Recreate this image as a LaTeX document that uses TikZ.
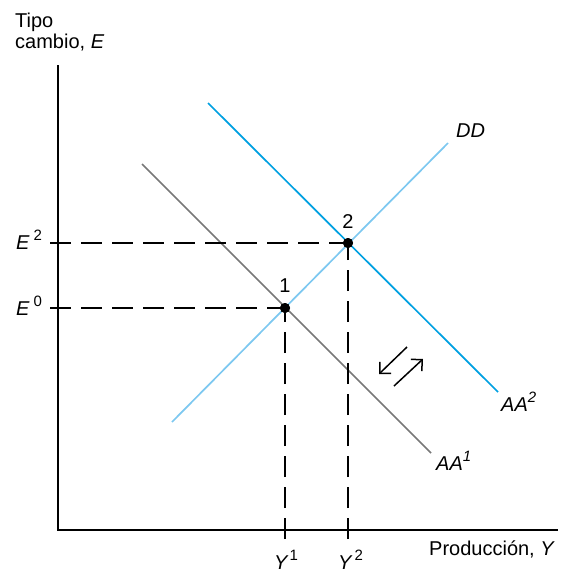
\documentclass[tikz,border=0pt]{standalone}
\usepackage{fontspec}
\setmainfont{Liberation Sans}
\usetikzlibrary{arrows.meta}
\definecolor{aablue}{RGB}{0,160,225}
\definecolor{ddblue}{RGB}{125,200,240}
\definecolor{aagray}{RGB}{120,120,120}
\newcommand\supn[1]{\raisebox{0.45em}{\fontsize{15}{15}\selectfont #1}}
\begin{document}
\begin{tikzpicture}[x=1pt,y=-1pt, font=\fontsize{20}{22}\selectfont,
 axis/.style={line width=2.2pt},
 curve/.style={line width=1.7pt},
 guide/.style={line width=1.1pt, dash pattern=on 21pt off 10pt},
 pt/.style={circle, fill=black, inner sep=0pt, minimum size=10pt},
 lbl/.style={inner sep=0pt},
 shiftarrow/.style={line width=1.5pt, -{Straight Barb[length=8pt,width=16pt]}}]
\useasboundingbox (0,0) rectangle (571,573);
% axes
\coordinate (O) at (58,530);
\coordinate (ytop) at (58,65);
\coordinate (xend) at (558,530);
\draw[axis] (ytop) -- (O) -- (xend);
% curves
\coordinate (aa1s) at (142,164);
\coordinate (aa1e) at (431,453);
\coordinate (aa2s) at (208,103);
\coordinate (aa2e) at (498,392);
\coordinate (dds) at (172,422);
\coordinate (dde) at (448,143);
\draw[curve, ddblue] (dds) -- (dde);
\draw[curve, aagray] (aa1s) -- (aa1e);
\draw[curve, aablue] (aa2s) -- (aa2e);
% equilibrium points
\node[pt] (p1) at (285,308) {};
\node[pt] (p2) at (348,243) {};
\coordinate (e0) at (50,308);
\coordinate (e2) at (50,243);
\coordinate (y1) at (285,539);
\coordinate (y2) at (348,539);
\draw[guide] (e0) -- (p1.center);
\draw[guide] (e2) -- (p2.center);
\draw[guide] (y1) -- (p1.center);
\draw[guide] (y2) -- (p2.center);
\node[pt] at (p1) {};
\node[pt] at (p2) {};
% shift arrows
\coordinate (a1s) at (407,347);
\coordinate (a1e) at (379,374);
\coordinate (a2s) at (394,386);
\coordinate (a2e) at (423,359);
\draw[shiftarrow] (a1s) -- (a1e);
\draw[shiftarrow] (a2s) -- (a2e);
% labels
\node[lbl, anchor=base] (l1) at (285,292) {1};
\node[lbl, anchor=base] (l2) at (348,228) {2};
\node[lbl, anchor=base west] (ldd) at (456,137) {\itshape DD};
\node[lbl, anchor=base west] (laa2) at (501,411) {\itshape AA\supn{2}};
\node[lbl, anchor=base west] (laa1) at (436,470) {\itshape AA\supn{1}};
\node[lbl, anchor=base west] (le2) at (16,249) {{\itshape E}\hspace{4pt}\supn{2}};
\node[lbl, anchor=base west] (le0) at (16,315) {{\itshape E}\hspace{4pt}\supn{0}};
\node[lbl, anchor=base west] (ly1) at (274,569) {{\itshape Y}\hspace{2pt}\supn{1}};
\node[lbl, anchor=base west] (ly2) at (338,569) {{\itshape Y}\hspace{3pt}\supn{2}};
\node[lbl, anchor=base west] (lx) at (429,555) {Producción, {\itshape Y}};
\node[lbl, anchor=base west] (lt1) at (15,27) {Tipo};
\node[lbl, anchor=base west] (lt2) at (15,48) {cambio, {\itshape E}};
\end{tikzpicture}
\end{document}
